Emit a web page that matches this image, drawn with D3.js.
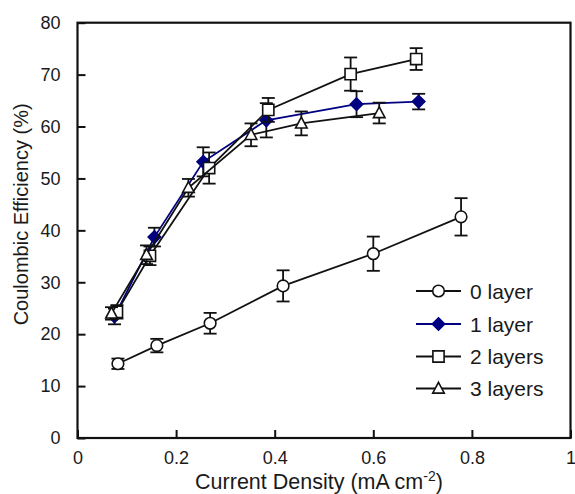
<!DOCTYPE html>
<html>
<head>
<meta charset="utf-8">
<script src="https://cdn.jsdelivr.net/npm/d3@7"></script>
<style>
  html, body { margin: 0; padding: 0; background: #fff; }
  svg text { font-family: "Liberation Sans", Arial, sans-serif; fill: #1a1a1a; }
</style>
</head>
<body>
<svg id="chart" width="575" height="494"></svg>
<script>
// Current density (mA cm^-2), Coulombic efficiency (%) and error (±%) per series
const layer0X = [0.082, 0.161, 0.269, 0.417, 0.600, 0.778];
const layer0Y = [14.3, 17.8, 22.1, 29.3, 35.5, 42.6];
const layer0E = [1.0, 1.3, 2.0, 3.0, 3.3, 3.6];

const layer1X = [0.075, 0.156, 0.255, 0.383, 0.566, 0.692];
const layer1Y = [23.4, 38.7, 53.2, 61.2, 64.3, 64.8];
const layer1E = [1.5, 1.8, 2.8, 3.3, 2.5, 1.5];

const layer2X = [0.080, 0.147, 0.267, 0.387, 0.554, 0.687];
const layer2Y = [24.3, 35.1, 52.0, 63.2, 70.1, 73.0];
const layer2E = [1.3, 1.8, 3.0, 2.3, 3.2, 2.1];

const layer3X = [0.069, 0.140, 0.225, 0.352, 0.454, 0.612];
const layer3Y = [24.0, 35.3, 48.2, 58.4, 60.6, 62.6];
const layer3E = [1.2, 1.8, 1.7, 2.2, 2.3, 2.0];

const seriesNames = ["0 layer", "1 layer", "2 layers", "3 layers"];
const xTicks = [0, 0.2, 0.4, 0.6, 0.8, 1];
const yTicks = [0, 10, 20, 30, 40, 50, 60, 70, 80];

const navy = "#000080";
const series = [
  { name: seriesNames[0], x: layer0X, y: layer0Y, e: layer0E, shape: "circle",   stroke: "#111", fill: "#fff" },
  { name: seriesNames[1], x: layer1X, y: layer1Y, e: layer1E, shape: "diamond",  stroke: navy,   fill: navy },
  { name: seriesNames[2], x: layer2X, y: layer2Y, e: layer2E, shape: "square",   stroke: "#111", fill: "#fff" },
  { name: seriesNames[3], x: layer3X, y: layer3Y, e: layer3E, shape: "triangle", stroke: "#111", fill: "#fff" }
];

const svg = d3.select("#chart");
const margin = { left: 77.5, right: 4.5, top: 22.7, bottom: 56 };
const W = 575, H = 494;

const x = d3.scaleLinear().domain([0, 1]).range([margin.left, W - margin.right]);
const y = d3.scaleLinear().domain([0, 80]).range([H - margin.bottom, margin.top]);

// Inward ticks on left and bottom axes
const xAxis = d3.axisBottom(x).tickValues(xTicks).tickFormat(d3.format("")).tickSizeInner(-8).tickSizeOuter(0).tickPadding(13);
const yAxis = d3.axisLeft(y).tickValues(yTicks).tickFormat(d3.format("")).tickSizeInner(-8).tickSizeOuter(0).tickPadding(17);

const gx = svg.append("g").attr("transform", `translate(0,${y(0)})`).call(xAxis);
const gy = svg.append("g").attr("transform", `translate(${x(0)},0)`).call(yAxis);
[gx, gy].forEach(g => {
  g.select(".domain").remove();
  g.selectAll(".tick line").attr("stroke", "#111").attr("stroke-width", 2);
  g.selectAll(".tick text").attr("font-size", 18).attr("fill", "#1a1a1a");
});

// Plot frame
svg.append("rect")
  .attr("x", x(0)).attr("y", y(80))
  .attr("width", x(1) - x(0)).attr("height", y(0) - y(80))
  .attr("fill", "none").attr("stroke", "#111").attr("stroke-width", 2.2);

// Axis titles
svg.append("text")
  .attr("transform", `translate(28,${(y(0) + y(80)) / 2 - 16}) rotate(-90)`)
  .attr("text-anchor", "middle").attr("font-size", 20)
  .text("Coulombic Efficiency (%)");

const xt = svg.append("text")
  .attr("x", (x(0) + x(1)) / 2 - 5).attr("y", 489)
  .attr("text-anchor", "middle").attr("font-size", 21.5);
xt.append("tspan").text("Current Density (mA cm");
xt.append("tspan").attr("dy", -8).attr("font-size", 14).text("-2");
xt.append("tspan").attr("dy", 8).text(")");

// Marker outlines, centred on the origin
function markerPath(shape) {
  const p = d3.path();
  if (shape === "circle") { p.arc(0, 0, 5.8, 0, 2 * Math.PI); p.closePath(); }
  else if (shape === "square") { p.rect(-5.6, -5.6, 11.2, 11.2); }
  else if (shape === "diamond") { p.moveTo(0, -6.2); p.lineTo(6.2, 0); p.lineTo(0, 6.2); p.lineTo(-6.2, 0); p.closePath(); }
  else { p.moveTo(0, -6.2); p.lineTo(5.8, 4.6); p.lineTo(-5.8, 4.6); p.closePath(); }
  return p.toString();
}
function drawMarker(g, s, cx, cy) {
  g.append("path")
    .attr("d", markerPath(s.shape))
    .attr("transform", `translate(${cx},${cy})`)
    .attr("fill", s.fill).attr("stroke", s.stroke).attr("stroke-width", 1.6);
}

const line = d3.line().x(d => x(d[0])).y(d => y(d[1]));
const capW = 6.5;

series.forEach(s => {
  const g = svg.append("g");
  const pts = s.x.map((v, i) => [v, s.y[i], s.e[i]]);
  g.append("path").datum(pts).attr("d", line)
    .attr("fill", "none").attr("stroke", s.stroke).attr("stroke-width", 1.8);
  pts.forEach(p => {
    const cx = x(p[0]), y1 = y(p[1] - p[2]), y2 = y(p[1] + p[2]);
    g.append("line").attr("x1", cx).attr("x2", cx).attr("y1", y1).attr("y2", y2)
      .attr("stroke", "#111").attr("stroke-width", 1.8);
    [y1, y2].forEach(yy => g.append("line")
      .attr("x1", cx - capW).attr("x2", cx + capW).attr("y1", yy).attr("y2", yy)
      .attr("stroke", "#111").attr("stroke-width", 1.8));
  });
  pts.forEach(p => drawMarker(g, s, x(p[0]), y(p[1])));
});

// Legend
const legend = svg.append("g");
const legendY = [291, 324, 356.5, 388.5];
series.forEach((s, i) => {
  const ly = legendY[i];
  legend.append("line").attr("x1", 416).attr("x2", 461).attr("y1", ly).attr("y2", ly)
    .attr("stroke", s.stroke).attr("stroke-width", 1.8);
  drawMarker(legend, s, 438.5, ly);
  legend.append("text").attr("x", 470).attr("y", ly).attr("dy", "0.36em")
    .attr("font-size", 21).text(s.name);
});
</script>
</body>
</html>
